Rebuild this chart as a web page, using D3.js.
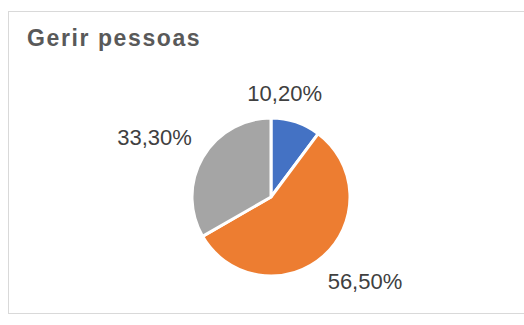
<!DOCTYPE html>
<html>
<head>
<meta charset="utf-8">
<script src="https://cdn.jsdelivr.net/npm/d3@7"></script>
<style>
  html, body { margin: 0; padding: 0; background: #fff; }
  svg { display: block; }
</style>
</head>
<body>
<svg id="chart" width="524" height="325"></svg>
<script>
const title = "Gerir pessoas";
const categories = ["A", "B", "C"];
const values = [10.2, 56.5, 33.3];
const labels = ["10,20%", "56,50%", "33,30%"];
const colors = ["#4472C4", "#ED7D31", "#A5A5A5"];

const svg = d3.select("#chart");
const W = 524, H = 325;

// chart frame
svg.append("rect")
  .attr("x", 8.5).attr("y", 11.5)
  .attr("width", 540).attr("height", 302)
  .attr("fill", "#fff").attr("stroke", "#d9d9d9").attr("stroke-width", 1);

svg.append("text")
  .attr("x", 27).attr("y", 46)
  .attr("font-family", "Liberation Sans, Arial, sans-serif")
  .attr("font-size", 23).attr("font-weight", "bold")
  .attr("letter-spacing", "1.6px")
  .attr("fill", "#595959")
  .text(title);

const cx = 271, cy = 197, r = 79;
const g = svg.append("g").attr("transform", `translate(${cx},${cy})`);

const pie = d3.pie().sort(null).value(d => d)(values);
const arc = d3.arc().innerRadius(0).outerRadius(r);

g.selectAll("path.slice").data(pie).join("path")
  .attr("class", "slice")
  .attr("d", arc)
  .attr("fill", (d, i) => colors[i])
  .attr("stroke", "#fff").attr("stroke-width", 3).attr("stroke-linejoin", "round");

const labelRadii = [110, 125, 130];
const labelNudge = [[-21, 0], [11, -9], [-4, 5]];

g.selectAll("text.lbl").data(pie).join("text")
  .attr("class", "lbl")
  .attr("transform", (d, i) => {
    const la = d3.arc().innerRadius(labelRadii[i]).outerRadius(labelRadii[i]);
    const c = la.centroid(d);
    return `translate(${c[0] + labelNudge[i][0]},${c[1] + labelNudge[i][1]})`;
  })
  .attr("text-anchor", "middle")
  .attr("dy", "0.36em")
  .attr("font-family", "Liberation Sans, Arial, sans-serif")
  .attr("font-size", 22)
  .attr("fill", "#404040")
  .text((d, i) => labels[i]);
</script>
</body>
</html>
